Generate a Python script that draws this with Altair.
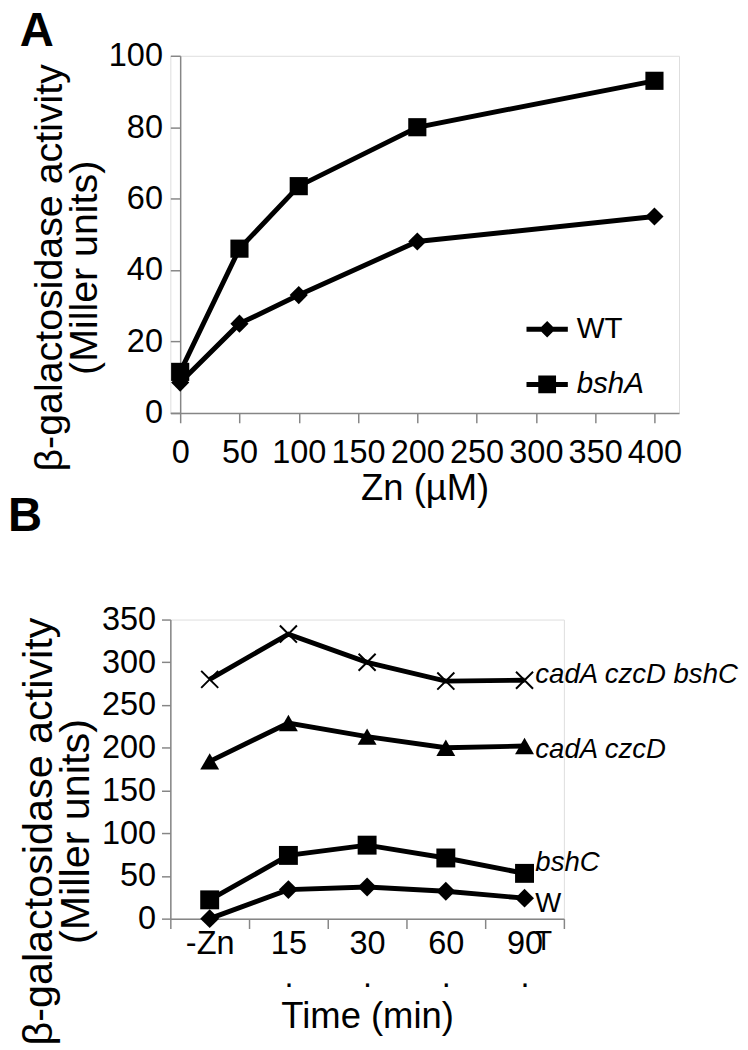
import altair as alt
import pandas as pd

# ---- Panel A data ----
zn = [0, 50, 100, 200, 400]
wt_a = [8.5, 25, 33, 48, 55]
bsha_a = [11.5, 46, 63.5, 80, 93]

# ---- Panel B data ----
time_labels = ["-Zn", "15", "30", "60", "90"]
wt_b = [0, 34, 37, 32, 24]
bshc_b = [22, 74, 86, 71, 53]
cadczc_b = [184, 229, 213, 200, 202]
cadczcbshc_b = [280, 333, 300, 278, 279]

FONT = "Liberation Sans"
AXIS_GRAY = "#868686"

dfA = pd.DataFrame({
    "zn": zn * 2,
    "val": wt_a + bsha_a,
    "strain": ["WT"] * len(zn) + ["bshA"] * len(zn),
})

xA = alt.X("zn:Q", scale=alt.Scale(domain=[-8.3, 420.7], nice=False, zero=False),
           axis=alt.Axis(values=list(range(0, 401, 50)), title="Zn (µM)", grid=False,
                         domainColor=AXIS_GRAY, domainWidth=1.5, tickColor=AXIS_GRAY,
                         tickWidth=1.5, tickSize=10, labelFont=FONT, labelFontSize=33,
                         labelColor="black", labelPadding=14, titleFont=FONT,
                         titleFontSize=37, titleFontWeight="normal", titlePadding=2,
                         titleColor="black"))
yA = alt.Y("val:Q", scale=alt.Scale(domain=[0, 100], nice=False),
           axis=alt.Axis(values=list(range(0, 101, 20)),
                         title=["β-galactosidase activity", "(Miller units)"],
                         grid=False, offset=-10, domainColor=AXIS_GRAY, domainWidth=1.5,
                         tickColor=AXIS_GRAY, tickWidth=1.5, tickSize=10,
                         labelFont=FONT, labelFontSize=33, labelColor="black",
                         labelPadding=8, titleFont=FONT, titleFontSize=40,
                         titleFontWeight="normal", titleColor="black",
                         titleLineHeight=36, titlePadding=4, titleY=215))

lineA = alt.Chart(dfA).mark_line(color="black", strokeWidth=5).encode(
    x=xA, y=yA, detail="strain:N")
ptsA = alt.Chart(dfA).mark_point(filled=True, color="black", opacity=1, size=340).encode(
    x=xA, y=yA,
    shape=alt.Shape("strain:N", scale=alt.Scale(domain=["WT", "bshA"], range=["diamond", "square"]),
                    legend=None))

# legend glyphs: a short line with the marker in its middle (filled paths)
leg_d = "M-1,-0.12H1V0.12H-1ZM-0.4,0L0,-0.4L0.4,0L0,0.4Z"
leg_s = "M-1,-0.12H1V0.12H-1ZM-0.43,-0.43H0.43V0.43H-0.43Z"


def legend_layer(name, path, ly, style):
    return alt.Chart(dfA).transform_filter("false").mark_point(
        filled=True, color="black", opacity=1).encode(
        x=xA, y=yA,
        shape=alt.Shape("strain:N", scale=alt.Scale(domain=[name], range=[path]),
                        legend=alt.Legend(title=None, orient="none", legendX=362, legendY=ly,
                                          symbolSize=1764, symbolStrokeWidth=0,
                                          symbolFillColor="black", symbolOpacity=1,
                                          labelFont=FONT, labelFontSize=30,
                                          labelFontStyle=style, labelOffset=9,
                                          labelColor="black")))


panelA = alt.layer(
    lineA, ptsA,
    legend_layer("WT", leg_d, 257, "normal"),
    legend_layer("bshA", leg_s, 313, "italic"),
).resolve_scale(shape="independent").properties(
    width=517, height=363,
    title=alt.TitleParams("A", anchor="start", frame="bounds", fontSize=48, fontWeight="bold",
                          font=FONT, color="black", offset=-16, dx=-10))

# ---- Panel B ----
series_b = ["WT", "bshC", "cadA czcD", "cadA czcD bshC"]
vals_b = [wt_b, bshc_b, cadczc_b, cadczcbshc_b]
rows = []
for s, v in zip(series_b, vals_b):
    for t, y in zip(time_labels, v):
        rows.append({"time": t, "val": y, "strain": s})
dfB = pd.DataFrame(rows)

xB = alt.X("time:N", sort=time_labels,
           scale=alt.Scale(type="band", domain=time_labels, paddingInner=0, paddingOuter=0),
           axis=alt.Axis(title="Time (min)", tickBand="extent", grid=False, labelAngle=0,
                         domainColor=AXIS_GRAY, domainWidth=1.5, tickColor=AXIS_GRAY,
                         tickWidth=1.5, tickSize=10, labelFont=FONT, labelFontSize=33,
                         labelColor="black", labelPadding=-1, labelLineHeight=34,
                         labelExpr="(datum.label == '15' || datum.label == '30' || datum.label == '60' || datum.label == '90') ? [datum.label, ' .'] : datum.label",
                         titleFont=FONT, titleFontSize=37, titleFontWeight="normal",
                         titleColor="black", titlePadding=6))
yB = alt.Y("val:Q", scale=alt.Scale(domain=[0, 350], nice=False),
           axis=alt.Axis(values=list(range(0, 351, 50)),
                         title=["β-galactosidase activity", "(Miller units)"],
                         grid=False, domainColor=AXIS_GRAY, domainWidth=1.5,
                         tickColor=AXIS_GRAY, tickWidth=1.5, tickSize=9,
                         labelFont=FONT, labelFontSize=33, labelColor="black",
                         labelPadding=6, titleFont=FONT, titleFontSize=42,
                         titleFontWeight="normal", titleColor="black",
                         titleLineHeight=38, titlePadding=4, titleY=215))

lineB = alt.Chart(dfB).mark_line(color="black", strokeWidth=5).encode(
    x=xB, y=yB, detail="strain:N")
shape_scale = alt.Scale(domain=["WT", "bshC", "cadA czcD"],
                        range=["diamond", "square", "triangle-up"])
ptsB = alt.Chart(dfB).transform_filter("datum.strain != 'cadA czcD bshC'").mark_point(
    filled=True, color="black", opacity=1, size=370).encode(
    x=xB, y=yB, shape=alt.Shape("strain:N", scale=shape_scale, legend=None))
xmarkB = alt.Chart(dfB).transform_filter("datum.strain == 'cadA czcD bshC'").mark_point(
    filled=False, color="black", opacity=1, size=300, strokeWidth=2,
    shape="M-1,-1L1,1M-1,1L1,-1").encode(x=xB, y=yB)


def label_layer(name, text, dy, style):
    return alt.Chart(dfB).transform_filter(
        f"datum.strain == '{name}' && datum.time == '90'").transform_calculate(
        lab=f"'{text}'").mark_text(
        align="left", baseline="middle", dx=11, dy=dy, font=FONT, fontSize=28,
        fontStyle=style, color="black", lineBreak="\n", lineHeight=39).encode(
        x=xB, y=yB, text="lab:N")


panelB = alt.layer(
    lineB, ptsB, xmarkB,
    label_layer("cadA czcD bshC", "cadA czcD bshC", -5, "italic"),
    label_layer("cadA czcD", "cadA czcD", 4, "italic"),
    label_layer("bshC", "bshC", -10, "italic"),
    label_layer("WT", "W\\nT", 6, "normal"),
).resolve_scale(shape="independent").properties(
    width=400, height=304,
    title=alt.TitleParams("B", anchor="start", frame="bounds", fontSize=48, fontWeight="bold",
                          font=FONT, color="black", offset=64, dx=-10))

chart = alt.vconcat(panelA, panelB, spacing=-15).properties(
    padding={"left": -1, "top": -9, "right": 0, "bottom": 0}
).configure_view(stroke="transparent", strokeWidth=0).configure(background="white")

chart.save("out.html", embed_options={"renderer": "svg", "actions": False})
